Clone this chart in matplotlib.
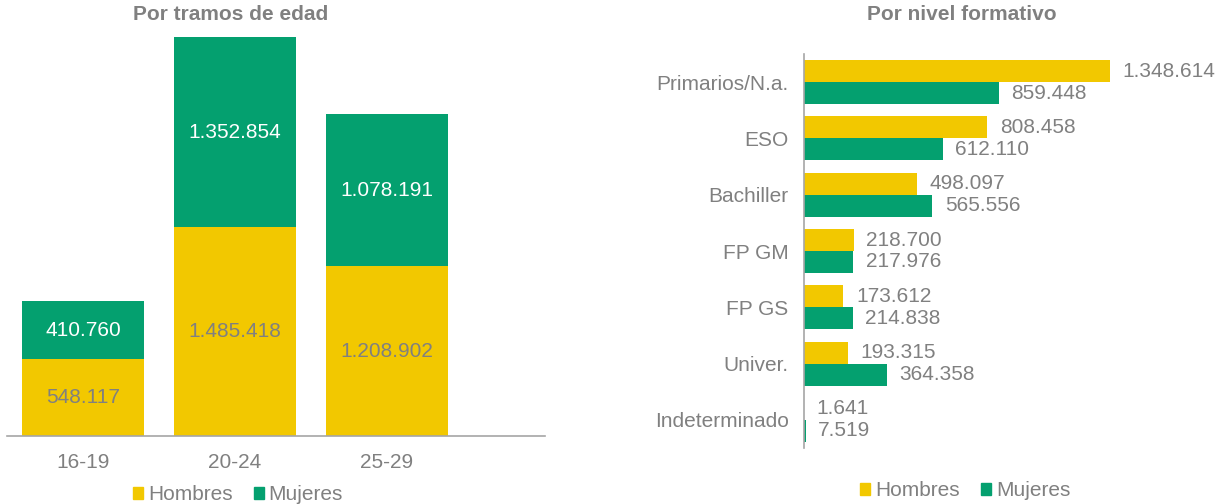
import numpy as np
import matplotlib
matplotlib.use("Agg")
import matplotlib.pyplot as plt
from matplotlib.patches import Patch

# data
edades = ["16-19", "20-24", "25-29"]
hombres_edad = [548117, 1485418, 1208902]
mujeres_edad = [410760, 1352854, 1078191]

niveles = ["Primarios/N.a.", "ESO", "Bachiller", "FP GM", "FP GS", "Univer.", "Indeterminado"]
hombres_nivel = [1348614, 808458, 498097, 218700, 173612, 193315, 1641]
mujeres_nivel = [859448, 612110, 565556, 217976, 214838, 364358, 7519]

AMARILLO = "#F2C800"
VERDE = "#04A06F"
GRIS = "#808080"
EJE = "#A6A6A6"

plt.rcParams['font.family'] = ['Liberation Sans', 'DejaVu Sans']

def fmt(v):
    return "{:,}".format(v).replace(",", ".")

W, H = 1221, 504
fig = plt.figure(figsize=(W/100, H/100), dpi=100)

# ---- left: stacked bars by age
ax1 = fig.add_axes([7/W, 68/H, (545-7)/W, (436-37)/H])
x = np.arange(len(edades))
ax1.bar(x, hombres_edad, 0.8, color=AMARILLO)
ax1.bar(x, mujeres_edad, 0.8, bottom=hombres_edad, color=VERDE)
for i in range(len(edades)):
    ax1.text(x[i], hombres_edad[i]/2, fmt(hombres_edad[i]), ha='center', va='center',
             color=GRIS, fontsize=15)
    ax1.text(x[i], hombres_edad[i] + mujeres_edad[i]/2, fmt(mujeres_edad[i]), ha='center',
             va='center', color='white', fontsize=15)
ax1.set_xlim(-0.5, 3.04)
ax1.set_ylim(0, hombres_edad[1] + mujeres_edad[1])
ax1.set_xticks(x)
ax1.set_xticklabels(edades, fontsize=15, color=GRIS)
ax1.tick_params(axis='x', length=0, pad=12)
ax1.set_yticks([])
for s in ['top', 'right', 'left']:
    ax1.spines[s].set_visible(False)
ax1.spines['bottom'].set_color(EJE)
ax1.spines['bottom'].set_linewidth(1.2)

fig.text(231/W, 1 - 15/H, "Por tramos de edad", ha='center', va='center',
         fontsize=15, fontweight='bold', color=GRIS)

# ---- right: grouped horizontal bars by education level
ax2 = fig.add_axes([804/W, 56/H, (1167-804)/W, (448-54)/H])
y = np.arange(len(niveles))
h = 0.39
ax2.barh(y - h/2, hombres_nivel, h, color=AMARILLO)
ax2.barh(y + h/2, mujeres_nivel, h, color=VERDE)
for i in range(len(niveles)):
    ax2.annotate(fmt(hombres_nivel[i]), (hombres_nivel[i], y[i] - h/2), xytext=(9, 0),
                 textcoords='offset points', ha='left', va='center', color=GRIS, fontsize=15)
    ax2.annotate(fmt(mujeres_nivel[i]), (mujeres_nivel[i], y[i] + h/2), xytext=(9, 0),
                 textcoords='offset points', ha='left', va='center', color=GRIS, fontsize=15)
ax2.set_ylim(len(niveles) - 0.5, -0.5)
ax2.set_xlim(0, 1.6e6)
ax2.set_yticks(y)
ax2.set_yticklabels(niveles, fontsize=15, color=GRIS)
ax2.tick_params(axis='y', length=0, pad=11)
ax2.set_xticks([])
for s in ['top', 'right', 'bottom']:
    ax2.spines[s].set_visible(False)
ax2.spines['left'].set_color(EJE)
ax2.spines['left'].set_linewidth(1.2)

fig.text(962/W, 1 - 15/H, "Por nivel formativo", ha='center', va='center',
         fontsize=15, fontweight='bold', color=GRIS)

# legends
handles = [Patch(color=AMARILLO, label="Hombres"), Patch(color=VERDE, label="Mujeres")]
for cx, cy in [(238/W, 9/H), (965/W, 13/H)]:
    leg = fig.legend(handles=handles, loc='center', bbox_to_anchor=(cx, cy), ncol=2,
                     frameon=False, fontsize=15, handlelength=0.48, handleheight=0.48,
                     handletextpad=0.25, columnspacing=1.0, borderpad=0, borderaxespad=0)
    for t in leg.get_texts():
        t.set_color(GRIS)

fig.savefig("out.png", dpi=100)
